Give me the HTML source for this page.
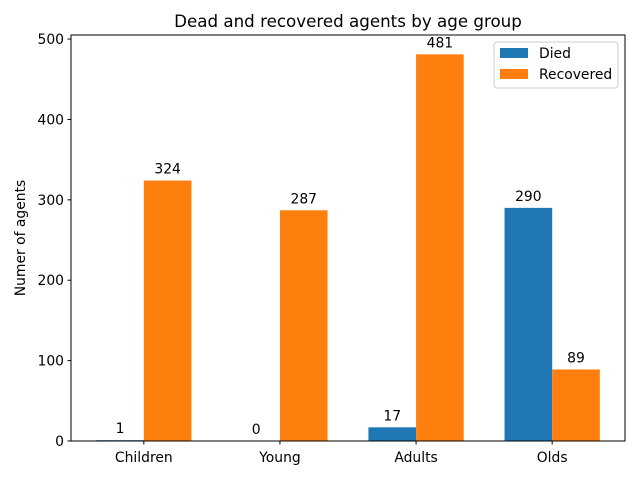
<!DOCTYPE html>
<html><head><meta charset="utf-8"><style>
body{margin:0;background:#fff;}
svg text{font-family:"DejaVu Sans","Liberation Sans",sans-serif;}
</style></head><body>
<svg id="chart" width="640" height="480" xmlns="http://www.w3.org/2000/svg">
<rect width="640" height="480" fill="#fff"/>
<text x="348" y="27" font-size="16.7" text-anchor="middle">Dead and recovered agents by age group</text>
<text transform="translate(25,238) rotate(-90)" font-size="13.9" text-anchor="middle">Numer of agents</text>
<g id="plot"></g>
<rect x="71" y="35" width="554" height="406" fill="none" stroke="#000" stroke-width="1"/>
<g>
<rect x="494" y="42" width="124" height="46" fill="#fff" stroke="#ccc" rx="3"/>
<rect x="500" y="48" width="28" height="10" fill="#1f77b4"/>
<text x="539" y="58" font-size="13.9">Died</text>
<rect x="500" y="69" width="28" height="10" fill="#ff7f0e"/>
<text x="539" y="79" font-size="13.9">Recovered</text>
</g>
</svg>
<script>
const categories=["Children","Young","Adults","Olds"];
const died=[1,0,17,290];
const recovered=[324,287,481,89];
const yTicks=[0,100,200,300,400,500];
const L=71,R=625,T=35,B=441;
const yMax=505.05, xMin=-0.535, xMax=3.535, w=0.35;
const X=v=>L+(v-xMin)/(xMax-xMin)*(R-L);
const Y=v=>B-v/yMax*(B-T);
const g=document.getElementById('plot');
const NS='http://www.w3.org/2000/svg';
function mk(tag,attrs){const e=document.createElementNS(NS,tag);for(const k in attrs)e.setAttribute(k,attrs[k]);g.appendChild(e);return e;}
yTicks.forEach(t=>{
  const l=mk('line',{x1:L-3.5,x2:L,y1:Y(t),y2:Y(t),stroke:'#000'});
  
  
  const tx=mk('text',{x:L-7,y:Y(t)+5,'font-size':13.9,'text-anchor':'end'});
  tx.textContent=t;
  
  
});
categories.forEach((c,i)=>{
  const l=mk('line',{x1:X(i),x2:X(i),y1:B,y2:B+3.5,stroke:'#000'});
  
  
  const tx=mk('text',{x:X(i),y:B+21,'font-size':13.9,'text-anchor':'middle'});
  tx.textContent=c;
  
  
  [[died[i],-w,'#1f77b4','died'],[recovered[i],0,'#ff7f0e','recovered']].forEach(([v,off,col,nm])=>{
    const x0=X(i+off),x1=X(i+off+w);
    const r=mk('rect',{x:x0,y:Y(v),width:x1-x0,height:B-Y(v),fill:col});
    
    
    const lb=mk('text',{x:(x0+x1)/2,y:Y(v)-7,'font-size':13.9,'text-anchor':'middle'});
    lb.textContent=v;
    
    
  });
});
</script>
</body></html>
